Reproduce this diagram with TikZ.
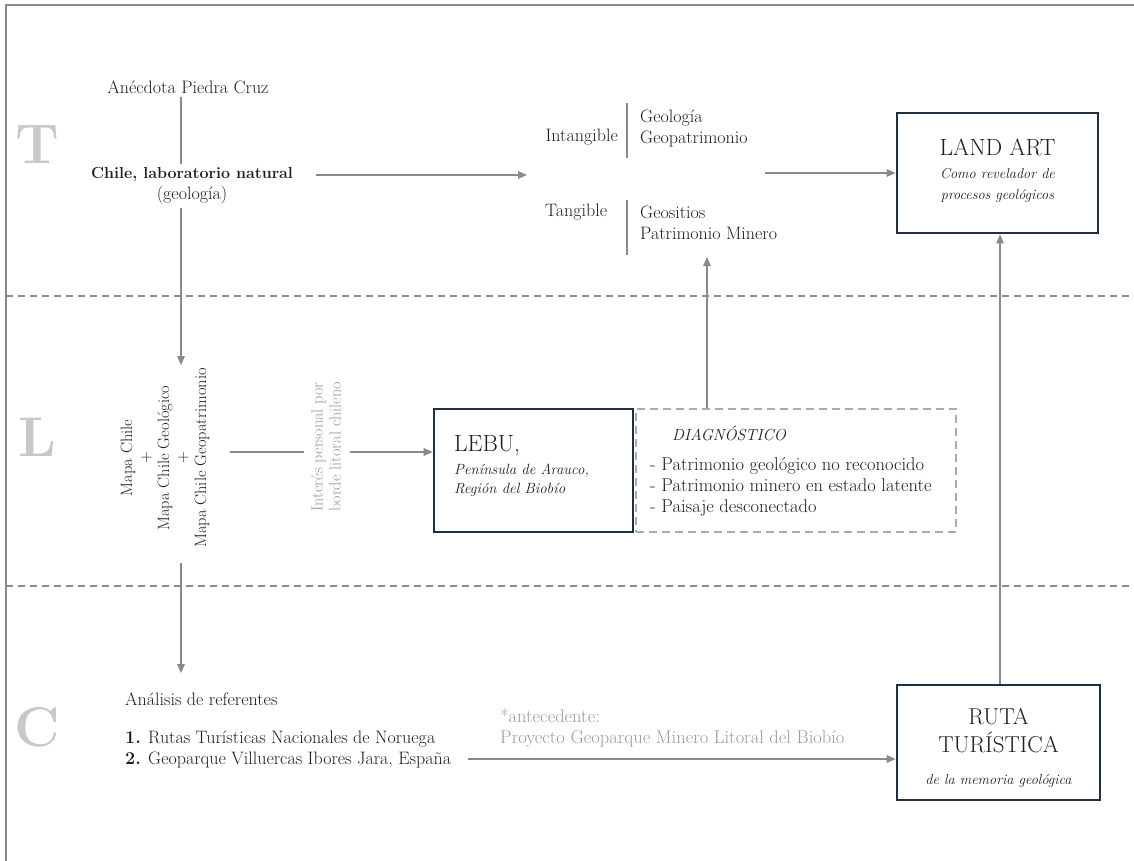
\documentclass[tikz,border=0pt]{standalone}
\usetikzlibrary{arrows.meta}
\definecolor{txtc}{HTML}{1E1E1E}
\definecolor{lgray}{HTML}{9A9A9A}
\definecolor{linc}{HTML}{8A8A8A}
\definecolor{dashc}{HTML}{ABABAB}
\definecolor{boxc}{HTML}{1B3142}
\definecolor{bigl}{HTML}{C8C8C8}
\begin{document}
\begin{tikzpicture}[x=1pt,y=-1pt,
  every node/.style={text=txtc, font=\fontsize{18}{21}\selectfont, inner sep=3pt},
  conn/.style={draw=linc, line width=1.5pt},
  arr/.style={conn, -{Triangle[length=9pt,width=7.5pt]}},
  big/.style={font=\fontsize{56}{56}\selectfont\bfseries, text=bigl},
  mainbox/.style={draw=boxc, line width=2.6pt},
  zone/.style={draw=linc, line width=1.3pt, dash pattern=on 7pt off 5pt},
  diagbox/.style={draw=dashc, line width=2pt, dash pattern=on 8pt off 5pt}
]
\useasboundingbox (0,0) rectangle (1134,861);
% frame
\draw[linc, line width=1.5pt] (6,861) -- (6,5) -- (1134,5);
% zone separators
\draw[zone] (6,296) -- (1134,296);
\draw[zone] (6,586) -- (1134,586);
% big letters
\node[big] (lT) at (37,145) {T};
\node[big] (lL) at (37,437) {L};
\node[big] (lC) at (37,727) {C};

% helper coordinates
\coordinate (ax) at (181,0);
\coordinate (r1) at (0,175);
\coordinate (r2) at (0,452);
\coordinate (r3) at (0,759);
\coordinate (c707) at (707,0);
\coordinate (c1000) at (1000,0);
\coordinate (patrIn) at (527,175);
\coordinate (patrOut) at (765,173);
\coordinate (patrBot) at (707,257);

% T zone
\node (anec) at (188,87) {Anécdota Piedra Cruz};
\node[align=center] (chile) at (192,186) {{\bfseries\fontsize{16}{21}\selectfont Chile, laboratorio natural}\\(geología)};
\draw[conn] (anec.south -| ax) -- (chile.north -| ax);

\node[anchor=east] (intang) at (621,137) {Intangible};
\node[anchor=west, align=left] (geo1) at (637,128) {Geología\\Geopatrimonio};
\node[anchor=west] (tang) at (542,212) {Tangible};
\node[anchor=west, align=left] (geo2) at (637,222.5) {Geositios\\Patrimonio Minero};
\draw[conn] (627,103) -- (627,158);
\draw[conn] (627,200) -- (627,255);

\node[mainbox, minimum width=201pt, minimum height=120pt] (land) at (997.5,173) {};
\node[align=center, font=\fontsize{14.3}{21}\selectfont] (landt) at (997.5,178)
  {{\fontsize{23.5}{24}\selectfont LAND ART}\\[2pt]\textit{Como revelador de}\\\textit{procesos geológicos}\\[-4pt]};

\draw[arr, shorten <=20pt] (chile.east |- r1) -- (patrIn);
\draw[arr] (patrOut) -- (land.west |- patrOut);

% L zone
\node[rotate=90, align=center, font=\fontsize{16.4}{18.5}\selectfont] (mapa) at (165,458)
  {Mapa Chile\\+\\Mapa Chile Geológico\\+\\Mapa Chile Geopatrimonio};
\draw[arr] (chile.south -| ax) -- (mapa.east -| ax);

\node[rotate=90, align=center, text=lgray, font=\fontsize{16.2}{18}\selectfont] (interes) at (326,447)
  {Interés personal por\\borde litoral chileno};

\node[mainbox, minimum width=199pt, minimum height=123pt] (lebu) at (533.5,470.5) {};
\node[anchor=west, align=left, font=\fontsize{14.8}{19.5}\selectfont] (lebut) at (451,466)
  {{\fontsize{23.5}{24}\selectfont LEBU,}\\[3.5pt]\textit{Península de Arauco,}\\\textit{Región del Biobío}};

\node[diagbox, minimum width=320pt, minimum height=123pt] (diag) at (796,470.5) {};
\node[anchor=west, align=left, font=\fontsize{18.5}{21}\selectfont] (diagt) at (647,471)
  {\hspace*{22pt}{\itshape\fontsize{16}{18}\selectfont DIAGNÓSTICO}\\[9pt]- Patrimonio geológico no reconocido\\- Patrimonio minero en estado latente\\- Paisaje desconectado};

\draw[conn, shorten <=17pt, shorten >=4pt] (mapa.south |- r2) -- (interes.north |- r2);
\draw[arr, shorten <=6pt] (interes.south |- r2) -- (lebu.west |- r2);
\draw[arr] (diag.north -| c707) -- (patrBot);

% C zone
\node[anchor=west, align=left] (analisis) at (122,730)
  {Análisis de referentes\\[17pt]\textbf{1.} Rutas Turísticas Nacionales de Noruega\\\textbf{2.} Geoparque Villuercas Ibores Jara, España};
\draw[arr, shorten <=12pt, shorten >=16pt] (mapa.west -| ax) -- (analisis.north -| ax);

\node[anchor=west, align=left, text=lgray, font=\fontsize{18.5}{21}\selectfont] (antec) at (497,727.5)
  {*antecedente:\\Proyecto Geoparque Minero Litoral del Biobío};

\node[mainbox, minimum width=203pt, minimum height=115pt] (ruta) at (998.5,742.5) {};
\node[align=center, font=\fontsize{23}{28}\selectfont] (rutat) at (998.5,747.5)
  {RUTA\\TURÍSTICA\\[4pt]{\itshape\fontsize{14.3}{17}\selectfont de la memoria geológica}};

\draw[arr, shorten <=14pt] (analisis.east |- r3) -- (ruta.west |- r3);
\draw[arr] (ruta.north -| c1000) -- (land.south -| c1000);
\end{tikzpicture}
\end{document}
